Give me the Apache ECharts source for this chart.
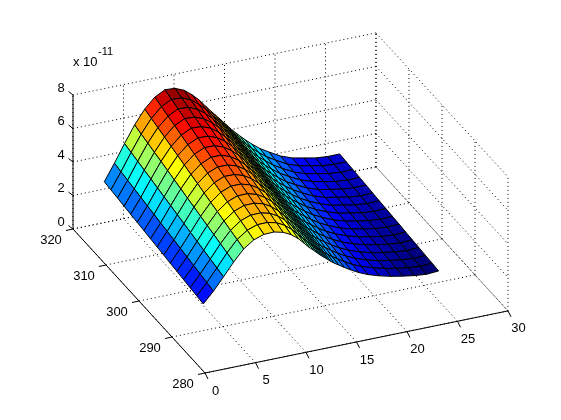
<!DOCTYPE html>
<html>
<head>
<meta charset="utf-8">
<title>surf</title>
<style>
  html, body { margin: 0; padding: 0; background: #fff; }
  #main { width: 561px; height: 420px; }
</style>
<script src="https://cdn.jsdelivr.net/npm/echarts@6/dist/echarts.min.js"></script>
</head>
<body>
<div id="main"></div>
<script>
// grid of the surface
const xValues = [3.1, 4.1, 5.1, 6.1, 7.1, 8.1, 9.1, 10.1, 11.0, 11.8, 12.5, 13.1, 13.6, 14.0, 14.35, 14.65, 14.9, 15.15, 15.4, 15.7, 16.05, 16.5, 17.05, 17.7, 18.5, 19.4, 20.55, 21.7, 22.85, 24.0, 25.2, 26.4];
const yValues = [290, 292, 294, 296, 298, 300, 302, 304, 306, 308, 310, 312, 314, 316, 318, 320];
// one line per xValues entry, each running along yValues, in units of 1e-11
const zValues = [
  [1.59, 1.65, 1.70, 1.76, 1.82, 1.87, 1.93, 1.99, 2.04, 2.10, 2.16, 2.21, 2.27, 2.33, 2.38, 2.44],
  [2.23, 2.31, 2.39, 2.47, 2.55, 2.63, 2.71, 2.79, 2.86, 2.94, 3.02, 3.10, 3.18, 3.26, 3.34, 3.42],
  [2.96, 3.06, 3.16, 3.26, 3.36, 3.46, 3.56, 3.66, 3.77, 3.87, 3.97, 4.07, 4.17, 4.27, 4.37, 4.47],
  [3.72, 3.84, 3.95, 4.07, 4.18, 4.30, 4.42, 4.53, 4.65, 4.76, 4.88, 5.00, 5.11, 5.23, 5.34, 5.46],
  [4.38, 4.51, 4.63, 4.76, 4.89, 5.01, 5.14, 5.27, 5.39, 5.52, 5.65, 5.77, 5.90, 6.03, 6.15, 6.28],
  [4.80, 4.94, 5.08, 5.21, 5.35, 5.49, 5.63, 5.77, 5.90, 6.04, 6.18, 6.32, 6.46, 6.59, 6.73, 6.87],
  [5.00, 5.15, 5.29, 5.44, 5.58, 5.73, 5.88, 6.02, 6.17, 6.31, 6.46, 6.61, 6.75, 6.90, 7.04, 7.19],
  [5.02, 5.16, 5.30, 5.45, 5.59, 5.73, 5.87, 6.01, 6.16, 6.30, 6.44, 6.58, 6.72, 6.87, 7.01, 7.15],
  [4.89, 5.03, 5.16, 5.30, 5.43, 5.57, 5.70, 5.84, 5.97, 6.11, 6.24, 6.38, 6.51, 6.65, 6.78, 6.92],
  [4.65, 4.78, 4.90, 5.03, 5.16, 5.28, 5.41, 5.54, 5.66, 5.79, 5.92, 6.04, 6.17, 6.30, 6.42, 6.55],
  [4.33, 4.45, 4.57, 4.69, 4.82, 4.94, 5.06, 5.18, 5.30, 5.42, 5.54, 5.66, 5.79, 5.91, 6.03, 6.15],
  [3.97, 4.09, 4.20, 4.32, 4.44, 4.56, 4.67, 4.79, 4.91, 5.03, 5.14, 5.26, 5.38, 5.50, 5.61, 5.73],
  [3.66, 3.78, 3.89, 4.01, 4.12, 4.24, 4.35, 4.47, 4.58, 4.70, 4.81, 4.93, 5.04, 5.16, 5.27, 5.39],
  [3.45, 3.56, 3.67, 3.79, 3.90, 4.01, 4.12, 4.23, 4.35, 4.46, 4.57, 4.68, 4.79, 4.91, 5.02, 5.13],
  [3.26, 3.37, 3.48, 3.59, 3.70, 3.81, 3.92, 4.03, 4.13, 4.24, 4.35, 4.46, 4.57, 4.68, 4.79, 4.90],
  [3.09, 3.20, 3.30, 3.41, 3.52, 3.63, 3.73, 3.84, 3.95, 4.06, 4.16, 4.27, 4.38, 4.49, 4.59, 4.70],
  [2.97, 3.07, 3.18, 3.28, 3.39, 3.49, 3.59, 3.70, 3.80, 3.91, 4.01, 4.11, 4.22, 4.32, 4.43, 4.53],
  [2.85, 2.95, 3.05, 3.15, 3.26, 3.36, 3.46, 3.56, 3.66, 3.76, 3.86, 3.96, 4.07, 4.17, 4.27, 4.37],
  [2.73, 2.83, 2.93, 3.02, 3.12, 3.22, 3.32, 3.42, 3.51, 3.61, 3.71, 3.81, 3.91, 4.00, 4.10, 4.20],
  [2.58, 2.67, 2.77, 2.86, 2.96, 3.05, 3.15, 3.24, 3.34, 3.43, 3.53, 3.62, 3.72, 3.81, 3.91, 4.00],
  [2.43, 2.52, 2.61, 2.70, 2.79, 2.88, 2.97, 3.06, 3.16, 3.25, 3.34, 3.43, 3.52, 3.61, 3.70, 3.79],
  [2.26, 2.34, 2.43, 2.51, 2.60, 2.68, 2.77, 2.85, 2.94, 3.02, 3.11, 3.19, 3.28, 3.36, 3.45, 3.53],
  [2.05, 2.13, 2.21, 2.28, 2.36, 2.44, 2.52, 2.60, 2.67, 2.75, 2.83, 2.91, 2.99, 3.06, 3.14, 3.22],
  [1.82, 1.89, 1.96, 2.03, 2.11, 2.18, 2.25, 2.32, 2.39, 2.46, 2.53, 2.60, 2.68, 2.75, 2.82, 2.89],
  [1.56, 1.62, 1.69, 1.75, 1.82, 1.88, 1.94, 2.01, 2.07, 2.14, 2.20, 2.26, 2.33, 2.39, 2.46, 2.52],
  [1.33, 1.39, 1.45, 1.50, 1.56, 1.62, 1.68, 1.74, 1.79, 1.85, 1.91, 1.97, 2.03, 2.08, 2.14, 2.20],
  [1.11, 1.16, 1.20, 1.25, 1.30, 1.35, 1.39, 1.44, 1.49, 1.54, 1.58, 1.63, 1.68, 1.72, 1.77, 1.82],
  [0.94, 0.98, 1.02, 1.06, 1.11, 1.15, 1.19, 1.23, 1.27, 1.31, 1.35, 1.39, 1.44, 1.48, 1.52, 1.56],
  [0.81, 0.85, 0.89, 0.93, 0.97, 1.01, 1.05, 1.09, 1.14, 1.18, 1.22, 1.26, 1.30, 1.34, 1.38, 1.42],
  [0.70, 0.74, 0.78, 0.82, 0.85, 0.89, 0.93, 0.97, 1.01, 1.05, 1.09, 1.13, 1.16, 1.20, 1.24, 1.28],
  [0.63, 0.67, 0.71, 0.75, 0.78, 0.82, 0.86, 0.90, 0.94, 0.98, 1.02, 1.06, 1.09, 1.13, 1.17, 1.21],
  [0.68, 0.72, 0.75, 0.79, 0.82, 0.86, 0.90, 0.93, 0.97, 1.00, 1.04, 1.08, 1.11, 1.15, 1.18, 1.22]
];
const xTicks = [0, 5, 10, 15, 20, 25, 30];
const yTicks = [280, 290, 300, 310, 320];
const zTicks = [0, 2, 4, 6, 8];

const xMin = 0, xMax = 30, yMin = 280, yMax = 320, zMin = 0, zMax = 8;
const colorMin = 0.7, colorMax = 7.2;

// box projection: screen step for one unit on each axis
function project(x, y, z) {
  return [
    205 + 10.1 * x - 3.3 * (y - yMin),
    373 - 2.07 * x - 3.6 * (y - yMin) - 16.75 * z
  ];
}

function clamp(v) {
  return Math.max(0, Math.min(1, v));
}

function jet(c) {
  let r = clamp(Math.min(4 * c - 1.5, -4 * c + 4.5));
  let g = clamp(Math.min(4 * c - 0.5, -4 * c + 3.5));
  let b = clamp(Math.min(4 * c + 0.5, -4 * c + 2.5));
  return `rgb(${Math.round(r * 255)},${Math.round(g * 255)},${Math.round(b * 255)})`;
}

function lineItem(api, a, b, style) {
  let p1 = api.coord(a);
  let p2 = api.coord(b);
  return {
    type: 'line',
    shape: {x1: p1[0], y1: p1[1], x2: p2[0], y2: p2[1]},
    style: style
  };
}

function textItem(api, at, dx, dy, text) {
  let p = api.coord(at);
  return {
    type: 'text',
    style: {
      x: p[0] + dx,
      y: p[1] + dy,
      text: String(text),
      fill: '#000',
      font: '13px "Liberation Sans"',
      align: 'center',
      verticalAlign: 'middle'
    }
  };
}

const dotted = {stroke: '#000', lineWidth: 1, lineDash: [1, 3]};
const solid = {stroke: '#000', lineWidth: 1};

function renderGrid(params, api) {
  let items = [];
  xTicks.forEach(x => {
    items.push(lineItem(api, project(x, yMin, zMin), project(x, yMax, zMin), dotted));
    items.push(lineItem(api, project(x, yMax, zMin), project(x, yMax, zMax), dotted));
  });
  yTicks.forEach(y => {
    items.push(lineItem(api, project(xMin, y, zMin), project(xMax, y, zMin), dotted));
    items.push(lineItem(api, project(xMax, y, zMin), project(xMax, y, zMax), dotted));
  });
  zTicks.forEach(z => {
    items.push(lineItem(api, project(xMin, yMax, z), project(xMax, yMax, z), dotted));
    items.push(lineItem(api, project(xMax, yMax, z), project(xMax, yMin, z), dotted));
  });
  return {type: 'group', children: items};
}

function renderAxes(params, api) {
  let items = [];
  items.push(lineItem(api, project(xMin, yMin, zMin), project(xMax, yMin, zMin), solid));
  items.push(lineItem(api, project(xMin, yMin, zMin), project(xMin, yMax, zMin), solid));
  items.push(lineItem(api, project(xMin, yMax, zMin), project(xMin, yMax, zMax), solid));
  xTicks.forEach(x => {
    let p = project(x, yMin, zMin);
    items.push(lineItem(api, p, [p[0] + 3, p[1] + 6], solid));
    items.push(textItem(api, p, 10.5, 18, x));
  });
  yTicks.forEach(y => {
    let p = project(xMin, y, zMin);
    items.push(lineItem(api, p, [p[0] - 7, p[1] + 1.5], solid));
    items.push(textItem(api, p, -22, 11, y));
  });
  zTicks.forEach(z => {
    let p = project(xMin, yMax, z);
    items.push(lineItem(api, p, [p[0] - 4.5, p[1] - 3.5], solid));
    items.push(textItem(api, p, -12, -7, z));
  });
  return {type: 'group', children: items};
}

// each cell takes the colour of its first corner, like flat shaded surf
function renderCell(params, api) {
  let i = api.value(0);
  let j = api.value(1);
  let corners = [
    project(xValues[i], yValues[j], zValues[i][j]),
    project(xValues[i + 1], yValues[j], zValues[i + 1][j]),
    project(xValues[i + 1], yValues[j + 1], zValues[i + 1][j + 1]),
    project(xValues[i], yValues[j + 1], zValues[i][j + 1])
  ];
  return {
    type: 'polygon',
    shape: {points: corners.map(p => api.coord(p))},
    style: {
      fill: jet((zValues[i][j] - colorMin) / (colorMax - colorMin)),
      stroke: '#000',
      lineWidth: 1
    }
  };
}

// far cells first so the near ones paint over them
let cells = [];
for (let i = xValues.length - 2; i >= 0; i--) {
  for (let j = yValues.length - 2; j >= 0; j--) {
    cells.push([i, j]);
  }
}

let chart = echarts.init(document.getElementById('main'), null, {renderer: 'canvas'});
chart.setOption({
  animation: false,
  backgroundColor: '#fff',
  grid: {left: 0, right: 0, top: 0, bottom: 0},
  xAxis: {type: 'value', min: 0, max: 561, show: false},
  yAxis: {type: 'value', min: 0, max: 420, inverse: true, show: false},
  graphic: [
    {type: 'text', left: 73, top: 56, style: {text: 'x 10', font: '13px "Liberation Sans"', fill: '#000'}},
    {type: 'text', left: 98, top: 46, style: {text: '-11', font: '11px "Liberation Sans"', fill: '#000'}}
  ],
  series: [
    {type: 'custom', renderItem: renderGrid, data: [[0, 0]], silent: true, clip: false, z: 1},
    {type: 'custom', renderItem: renderAxes, data: [[0, 0]], silent: true, clip: false, z: 2},
    {type: 'custom', renderItem: renderCell, data: cells, silent: true, clip: false, progressive: 0, z: 3}
  ]
});
</script>
</body>
</html>
